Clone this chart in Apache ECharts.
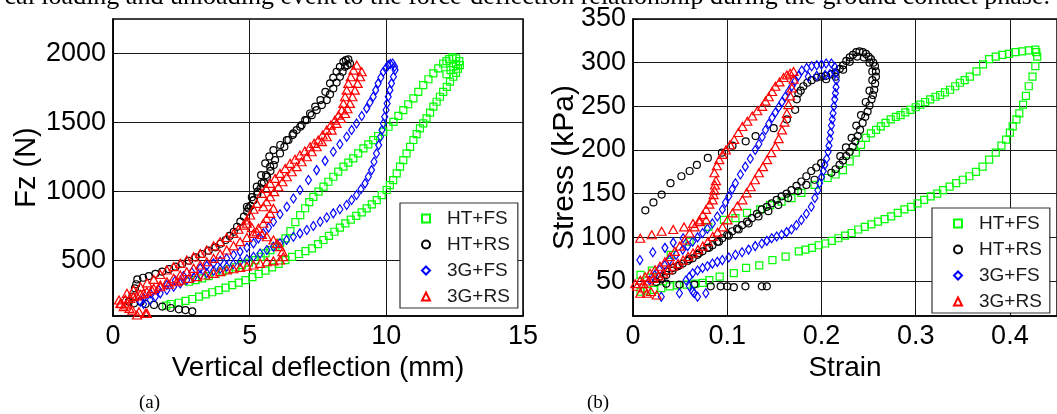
<!DOCTYPE html>
<html><head><meta charset="utf-8">
<script src="https://cdn.jsdelivr.net/npm/echarts@6/dist/echarts.min.js"></script>
<style>html,body{margin:0;padding:0;background:#fff;overflow:hidden}#c{width:1057px;height:414px}</style>
</head><body><div id="c"></div>
<script>
// ---------- Data (a): vertical deflection (mm) vs Fz (N) ----------
const seriesNames = ['HT+FS', 'HT+RS', '3G+FS', '3G+RS'];
const xTicksA = [0, 5, 10, 15];
const yTicksA = [500, 1000, 1500, 2000];
const xTicksB = [0, 0.1, 0.2, 0.3, 0.4];
const yTicksB = [50, 100, 150, 200, 250, 300, 350];

const defHTFS = [[1.95,175],[2.11,187],[2.41,196],[2.65,210],[2.90,223],[3.15,240],[3.39,257],[3.63,272],[3.87,288],[4.12,305],[4.36,324],[4.6,342],[4.85,360],[5.1,382],[5.33,404],[5.58,428],[5.82,452],[6.06,478],[6.31,505],[6.55,528],[6.80,549],[7.04,570],[7.28,590],[7.5,620],[7.7,650],[7.9,680],[8.1,710],[8.3,740],[8.5,770],[8.7,797],[8.9,825],[9.1,850],[9.28,879],[9.47,908],[9.65,939],[9.83,975],[10.01,1012],[10.13,1048],[10.25,1084],[10.38,1132],[10.50,1181],[10.62,1229],[10.74,1277],[10.87,1325],[10.99,1374],[11.11,1416],[11.23,1458],[11.35,1494],[11.47,1530],[11.6,1572],[11.72,1615],[11.84,1651],[11.96,1687],[12.08,1723],[12.21,1759],[12.33,1796],[12.45,1832],[12.55,1860],[12.62,1890],[12.69,1916],[12.67,1945],[12.55,1965],[12.42,1972],[12.3,1960],[12.2,1945],[12.08,1928],[11.9,1892],[11.72,1856],[11.54,1814],[11.35,1771],[11.17,1723],[10.99,1675],[10.8,1633],[10.62,1591],[10.44,1548],[10.26,1506],[10.08,1470],[9.89,1434],[9.7,1403],[9.52,1373],[9.34,1343],[9.16,1313],[8.97,1277],[8.79,1241],[8.61,1211],[8.43,1181],[8.24,1145],[8.06,1108],[7.88,1072],[7.70,1036],[7.52,1000],[7.33,963],[7.18,925],[7.03,880],[6.85,830],[6.67,780],[6.49,715],[6.31,662],[6.12,630],[5.94,602],[5.76,577],[5.58,553],[5.4,529],[5.21,505],[4.97,487],[4.72,469],[4.48,453],[4.24,438],[4.0,421],[3.75,404],[3.5,388],[3.26,372],[3.02,360],[2.78,348],[12.45,1905],[12.55,1925],[12.35,1880],[12.2,1850]];

const defHTRS = [[2.90,134],[2.65,143],[2.41,148],[2.11,158],[1.80,168],[1.50,180],[1.19,187],[1.01,204],[0.77,192],[0.58,204],[0.71,240],[0.8,300],[0.85,330],[0.89,365],[1.1,377],[1.31,389],[1.55,405],[1.80,421],[2.05,439],[2.29,457],[2.53,478],[2.78,500],[3.02,524],[3.26,549],[3.5,573],[3.75,597],[3.93,623],[4.12,650],[4.27,680],[4.42,710],[4.54,746],[4.66,783],[4.79,819],[4.91,855],[5.03,897],[5.15,939],[5.28,981],[5.40,1024],[5.52,1066],[5.64,1108],[5.76,1150],[5.88,1193],[4.90,891],[5.08,960],[5.26,1036],[5.42,1120],[5.57,1205],[5.72,1255],[5.87,1301],[6.12,1338],[6.36,1374],[6.6,1422],[6.85,1470],[7.03,1518],[7.21,1566],[7.4,1615],[7.59,1663],[7.77,1723],[7.94,1784],[8.06,1826],[8.18,1868],[8.3,1904],[8.43,1940],[8.52,1952],[8.61,1957],[8.67,1928],[8.58,1916],[8.49,1904],[8.4,1868],[8.30,1832],[8.18,1790],[8.06,1747],[7.94,1705],[7.82,1663],[7.64,1627],[7.45,1591],[7.27,1554],[7.09,1518],[6.9,1482],[6.72,1446],[6.57,1410],[6.42,1374],[6.27,1325],[6.11,1277],[5.93,1229],[5.75,1181],[5.6,1120],[5.44,1060],[5.29,1000],[5.14,939],[4.96,879]];

const def3GFS = [[1.12,230],[1.36,264],[1.66,294],[1.97,324],[2.28,357],[2.58,389],[2.88,417],[3.19,445],[3.43,463],[3.68,481],[3.92,499],[4.16,517],[4.41,541],[4.65,566],[4.9,596],[5.14,626],[5.32,662],[5.50,698],[5.69,740],[5.87,783],[6.11,837],[6.36,891],[6.6,951],[6.84,1012],[7.15,1084],[7.45,1156],[7.76,1223],[8.06,1289],[8.3,1343],[8.55,1398],[8.73,1446],[8.91,1494],[9.1,1548],[9.28,1603],[9.4,1645],[9.52,1687],[9.61,1735],[9.70,1784],[9.8,1826],[9.89,1868],[9.98,1892],[10.07,1916],[10.15,1925],[10.23,1928],[10.3,1905],[10.32,1880],[10.26,1832],[10.19,1784],[10.13,1735],[10.07,1687],[10.03,1639],[9.99,1591],[9.94,1542],[9.89,1494],[9.84,1446],[9.79,1398],[9.72,1337],[9.64,1277],[9.55,1217],[9.46,1156],[9.34,1108],[9.22,1060],[9.07,1018],[8.91,976],[8.73,940],[8.55,903],[8.3,873],[8.06,843],[7.82,813],[7.58,783],[7.33,752],[7.09,722],[6.84,698],[6.60,674],[6.35,650],[6.11,626],[5.87,602],[5.63,578],[5.38,553],[5.14,529],[4.9,511],[4.65,493],[4.4,475],[4.16,457],[3.92,442],[3.68,428],[3.43,412],[3.19,397],[2.95,379],[2.70,360],[2.46,336],[2.22,312],[1.97,288],[1.73,264],[1.55,240],[1.36,216],[1.12,187],[1.0,204]];

const def3GRS = [[0.22,216],[0.30,190],[0.39,168],[0.46,180],[0.6,155],[0.71,143],[0.88,107],[0.95,131],[1.19,119],[1.24,119],[4.90,771],[5.08,740],[5.26,710],[5.45,690],[5.63,674],[5.87,650],[6.0,625],[6.11,602],[6.2,565],[6.23,529],[6.11,505],[5.87,499],[5.63,493],[5.38,481],[5.14,469],[4.9,460],[4.65,452],[4.4,442],[4.16,433],[3.92,421],[3.68,409],[3.38,397],[3.07,385],[2.77,372],[2.46,360],[2.34,348],[2.05,330],[1.73,312],[1.42,288],[1.12,264],[0.87,246],[0.63,228],[0.45,222],[0.27,192],[0.51,264],[0.75,288],[1.0,312],[1.25,340],[1.49,365],[1.73,400],[1.97,433],[2.22,457],[2.46,481],[2.7,505],[2.95,529],[3.19,553],[3.43,578],[3.68,608],[3.92,638],[4.16,668],[4.41,698],[4.59,728],[4.77,758],[4.9,795],[5.02,831],[5.14,873],[5.26,915],[5.44,988],[5.6,1024],[5.75,1060],[5.93,1096],[6.11,1132],[6.3,1168],[6.48,1205],[6.66,1235],[6.84,1265],[7.02,1295],[7.21,1325],[7.36,1350],[7.51,1374],[7.67,1410],[7.82,1446],[7.97,1482],[8.12,1518],[8.25,1554],[8.37,1591],[8.43,1639],[8.49,1687],[8.55,1735],[8.61,1784],[8.7,1832],[8.80,1880],[8.92,1916],[9.10,1868],[9.04,1832],[8.95,1784],[8.85,1735],[8.76,1687],[8.67,1639],[8.58,1600],[8.49,1566],[8.34,1530],[8.18,1494],[8.0,1446],[7.82,1398],[7.64,1362],[7.45,1325],[7.27,1289],[7.09,1253],[6.9,1217],[6.72,1181],[6.54,1144],[6.36,1108],[6.2,1072],[6.05,1036],[5.9,1000],[5.75,963],[5.62,927],[5.50,891],[0.75,240],[1.0,258],[1.24,276],[1.49,300],[1.73,324],[1.97,348],[2.22,373],[2.46,397],[2.70,421],[2.95,445],[3.19,469],[3.43,493],[3.68,517],[3.92,548],[4.16,578],[4.41,608],[4.65,638],[4.9,668],[5.14,698],[5.32,735],[5.50,771],[5.62,807],[5.75,843],[5.87,879]];

// ---------- Data (b): strain vs stress (kPa) ----------
const strHTFS = [[0.008,38],[0.015,39],[0.022,40],[0.030,42],[0.039,44],[0.047,45],[0.057,46],[0.066,47],[0.074,48],[0.081,51],[0.092,55],[0.107,59],[0.120,65],[0.134,68],[0.148,74],[0.162,78],[0.176,84],[0.183,86],[0.190,88],[0.197,91],[0.204,93],[0.211,96],[0.218,99],[0.225,102],[0.232,105],[0.239,109],[0.246,112],[0.253,115],[0.260,118],[0.267,121],[0.274,124],[0.281,128],[0.288,132],[0.295,135],[0.302,139],[0.309,143],[0.316,147],[0.323,150],[0.329,154],[0.336,158],[0.343,162],[0.350,166],[0.357,170],[0.364,175],[0.371,181],[0.378,189],[0.385,197],[0.391,205],[0.396,212],[0.400,220],[0.403,227],[0.407,235],[0.410,242],[0.414,252],[0.417,262],[0.420,273],[0.424,284],[0.427,296],[0.429,307],[0.428,312],[0.427,315],[0.420,314],[0.413,313],[0.406,312],[0.399,310],[0.392,309],[0.385,307],[0.378,304],[0.3715,298],[0.3645,290],[0.3575,284],[0.352,280],[0.347,277],[0.342,273],[0.3365,269],[0.331,266],[0.326,263],[0.321,261],[0.3154,258],[0.310,255],[0.305,252],[0.300,249],[0.2945,246],[0.289,243],[0.284,240],[0.279,238],[0.2735,235],[0.268,231],[0.263,227],[0.258,223],[0.2525,219],[0.247,214],[0.242,206],[0.2365,197],[0.230,187],[0.2228,177],[0.2150,172],[0.2066,168],[0.1927,160],[0.1787,151],[0.1682,145],[0.1577,141],[0.1455,137],[0.1350,132],[0.1210,128],[0.1087,122],[0.0965,120],[0.080,112],[0.060,95],[0.040,80],[0.020,62],[0.008,57]];

const strHTRS = [[0.1420,44],[0.1367,44],[0.1193,44],[0.1070,43],[0.1000,44],[0.0930,44],[0.0825,44],[0.0650,46],[0.0493,46],[0.0353,47],[0.0131,131],[0.0217,140],[0.0304,149],[0.0398,162],[0.0514,170],[0.0601,176],[0.0678,183],[0.0794,191],[0.0944,197],[0.1056,205],[0.1196,210],[0.1301,216],[0.1493,225],[0.1633,235],[0.1721,246],[0.1738,258],[0.1756,265],[0.1780,268],[0.1808,273],[0.1850,277],[0.1896,280],[0.1950,283],[0.2001,284],[0.2050,285],[0.2106,287],[0.2150,289],[0.2194,293],[0.2230,297],[0.2264,302],[0.2300,306],[0.2334,309],[0.2370,312],[0.2404,313],[0.2440,312],[0.2473,310],[0.2500,307],[0.2526,304],[0.2550,300],[0.2568,296],[0.2578,290],[0.2578,284],[0.2570,276],[0.2560,269],[0.2546,263],[0.2532,258],[0.2510,251],[0.2490,244],[0.2465,238],[0.2437,231],[0.2410,223],[0.2385,216],[0.2360,210],[0.2332,204],[0.2300,198],[0.2262,193],[0.2228,188],[0.2192,183],[0.2150,178],[0.2105,174],[0.1997,185],[0.1945,180],[0.1892,176],[0.1840,170],[0.1787,164],[0.1735,159],[0.1682,154],[0.1630,150],[0.1577,147],[0.1525,143],[0.1472,139],[0.1420,135],[0.1367,132],[0.1315,127],[0.1262,122],[0.1210,118],[0.1157,114],[0.1105,110],[0.1052,107],[0.1000,103],[0.0947,99],[0.0895,95],[0.0843,91],[0.0790,88],[0.0738,84],[0.0685,80],[0.0633,76],[0.0580,73],[0.0528,70],[0.0475,67],[0.0423,65],[0.0353,61],[0.0283,55],[0.0248,49],[0.1927,166],[0.1840,160],[0.1752,153],[0.1647,145],[0.1542,137],[0.1437,130],[0.1332,124],[0.1227,116],[0.1122,109],[0.1017,102],[0.0913,95],[0.0808,88],[0.0703,82],[0.0598,75],[0.0493,68],[0.0420,62],[0.0353,57],[0.0300,52],[0.2050,281],[0.2150,284],[0.2230,292],[0.2300,301],[0.2380,307],[0.2450,306],[0.2510,300],[0.2540,290],[0.2540,280],[0.2510,268],[0.2470,255],[0.2420,240],[0.2370,228],[0.2320,214],[0.2260,203],[0.2200,193]];

const str3GFS = [[0.0073,74],[0.0210,83],[0.0339,88],[0.0427,94],[0.0532,99],[0.0300,32],[0.0493,36],[0.0633,38],[0.0685,32],[0.0773,36],[0.0598,44],[0.0650,36],[0.0178,51],[0.0230,57],[0.0283,63],[0.0335,68],[0.0388,74],[0.0458,80],[0.0528,86],[0.0580,90],[0.0633,95],[0.0685,100],[0.0738,105],[0.0790,110],[0.0843,116],[0.0895,124],[0.0948,132],[0.0982,140],[0.1017,147],[0.1052,155],[0.1087,162],[0.1140,172],[0.1192,181],[0.1245,190],[0.1297,200],[0.1336,207],[0.1371,215],[0.1406,223],[0.1441,230],[0.1476,237],[0.1511,243],[0.1546,249],[0.1581,255],[0.1616,261],[0.1651,267],[0.1686,273],[0.1721,279],[0.1756,285],[0.1791,291],[0.1843,294],[0.1896,296],[0.1950,297],[0.2001,298],[0.2050,299],[0.2106,299],[0.2141,295],[0.2150,288],[0.2158,280],[0.2155,272],[0.2148,265],[0.2141,258],[0.2132,250],[0.2123,242],[0.2115,235],[0.2106,228],[0.2097,220],[0.2088,213],[0.2080,205],[0.2071,198],[0.2055,190],[0.2036,183],[0.2020,176],[0.2001,169],[0.1980,162],[0.1962,154],[0.1930,145],[0.1892,135],[0.1840,127],[0.1787,120],[0.1735,114],[0.1682,109],[0.1630,106],[0.1577,103],[0.1525,101],[0.1472,99],[0.1420,96],[0.1367,93],[0.1297,90],[0.1227,86],[0.1157,83],[0.1087,80],[0.1017,77],[0.0948,74],[0.0895,72],[0.0843,70],[0.0790,67],[0.0738,65],[0.0685,62],[0.0633,59],[0.0598,55],[0.0563,51],[0.1860,284],[0.1950,285],[0.2040,286],[0.2090,287]];

const str3GRS = [[0.0077,99],[0.0199,103],[0.0304,107],[0.0427,109],[0.0542,112],[0.0637,116],[0.0706,118],[0.0776,120],[0.0024,47],[0.0042,44],[0.0077,36],[0.0147,36],[0.0252,34],[0.0112,42],[0.0190,38],[0.0112,47],[0.0165,50],[0.0217,53],[0.0270,56],[0.0322,59],[0.0375,63],[0.0427,67],[0.0479,70],[0.0531,74],[0.0584,78],[0.0637,82],[0.0689,86],[0.0741,90],[0.0794,95],[0.0846,101],[0.0898,106],[0.0951,112],[0.1003,120],[0.1056,128],[0.1108,136],[0.1161,143],[0.1205,151],[0.1249,158],[0.1293,166],[0.1336,174],[0.1380,181],[0.1424,189],[0.1468,197],[0.1511,204],[0.1546,213],[0.1581,223],[0.1607,232],[0.1633,242],[0.1650,252],[0.1668,262],[0.1686,271],[0.1704,281],[0.1704,290],[0.0077,51],[0.0129,55],[0.0181,59],[0.0234,63],[0.0286,67],[0.0339,72],[0.0391,78],[0.0444,84],[0.0496,90],[0.0549,97],[0.0601,105],[0.0654,112],[0.0706,120],[0.0741,126],[0.0776,132],[0.0811,138],[0.0846,143],[0.0855,149],[0.0864,154],[0.0870,160],[0.0881,165],[0.0864,174],[0.0890,182],[0.0916,189],[0.0951,195],[0.0986,200],[0.1030,206],[0.1074,212],[0.1118,220],[0.1161,227],[0.1214,233],[0.1266,239],[0.1319,245],[0.1371,250],[0.1406,256],[0.1441,261],[0.1476,267],[0.1511,273],[0.1555,278],[0.1598,283],[0.1633,286],[0.1668,288]];

const captionText = 'cal loading and unloading event to the force-deflection relationship during the ground contact phase.';

// ---------- Styles ----------
const SANS = 'Liberation Sans, Arial, sans-serif';
const SERIF = 'Liberation Serif, Times New Roman, serif';
const colors = ['#00ff00', '#000000', '#0000ff', '#ff0000'];
const symbols = ['rect', 'circle', 'diamond', 'triangle'];
const symSizes = [[7,7],[7,7],[6,9],[9,8]];
const plain = v => String(v);

function axisCommon(extra) {
  return Object.assign({
    type: 'value',
    axisLine: { show: true, onZero: false, lineStyle: { color: '#000', width: 1.5 } },
    splitLine: { show: true, lineStyle: { color: '#1a1a1a', width: 1 } },
    nameLocation: 'middle',
    nameMoveOverlap: false,
    nameTextStyle: { color: '#000', fontSize: 28, fontFamily: SANS }
  }, extra);
}
function lab(vals, margin) {
  return { color: '#000', fontSize: 27, fontFamily: SANS, margin: margin, customValues: vals, formatter: plain };
}
function tick(vals) {
  return { show: true, inside: true, length: 5, lineStyle: { color: '#000' }, customValues: vals };
}

const dataA = [defHTFS, defHTRS, def3GFS, def3GRS];
const dataB = [strHTFS, strHTRS, str3GFS, str3GRS];
const series = [];
[dataA, dataB].forEach((set, gi) => {
  set.forEach((d, i) => {
    series.push({
      type: 'scatter', name: seriesNames[i], xAxisIndex: gi, yAxisIndex: gi,
      data: d, symbol: symbols[i], symbolSize: symSizes[i],
      itemStyle: { color: 'rgba(255,255,255,0)', borderColor: colors[i], borderWidth: 1.2, opacity: 1 },
      emphasis: { disabled: true }, animation: false
    });
  });
});

function legendAt(left, top) {
  return {
    orient: 'vertical', left: left, top: top, data: seriesNames,
    backgroundColor: '#fff', borderColor: '#333', borderWidth: 1.2,
    padding: [6, 8, 2, 21], itemGap: 7, itemWidth: 8, itemHeight: 8,
    selectedMode: false,
    textStyle: { fontSize: 19, fontFamily: SANS, color: '#1a1a1a', lineHeight: 19, padding: [0, 0, 0, 12] }
  };
}

const chart = echarts.init(document.getElementById('c'), null, { renderer: 'canvas' });
chart.setOption({
  animation: false,
  backgroundColor: '#fff',
  grid: [
    { left: 113, top: 19, width: 410, height: 297, show: true, borderColor: '#000', borderWidth: 1.5, backgroundColor: 'transparent' },
    { left: 633, top: 19, width: 429, height: 297, show: true, borderColor: '#000', borderWidth: 1.5, backgroundColor: 'transparent' }
  ],
  xAxis: [
    axisCommon({ gridIndex: 0, min: 0, max: 15, interval: 5, name: 'Vertical deflection (mm)', nameGap: 38,
      axisLabel: lab(xTicksA, 7), axisTick: tick(xTicksA) }),
    axisCommon({ gridIndex: 1, min: 0, max: 0.45, interval: 0.1, name: 'Strain', nameGap: 38,
      axisLabel: lab(xTicksB, 7), axisTick: tick(xTicksB) })
  ],
  yAxis: [
    axisCommon({ gridIndex: 0, min: 100, max: 2250, name: 'Fz (N)', nameGap: 72,
      nameTextStyle: { color: '#000', fontSize: 29, fontFamily: SANS },
      axisLabel: lab(yTicksA, 7), axisTick: tick(yTicksA) }),
    axisCommon({ gridIndex: 1, min: 10, max: 350, name: 'Stress (kPa)', nameGap: 53,
      nameTextStyle: { color: '#000', fontSize: 30, fontFamily: SANS },
      axisLabel: lab(yTicksB, 7), axisTick: tick(yTicksB) })
  ],
  legend: [legendAt(400, 203), legendAt(932, 208)],
  graphic: [
    { type: 'text', left: 'auto', right: 7, top: -16, z: 100,
      style: { text: captionText, font: '26px ' + SERIF, fill: '#000' } },
    { type: 'text', left: 139, top: 394, style: { text: '(a)', font: '19px ' + SERIF, fill: '#000' } },
    { type: 'text', left: 587, top: 394, style: { text: '(b)', font: '19px ' + SERIF, fill: '#000' } }
  ],
  series: series
});
</script></body></html>
